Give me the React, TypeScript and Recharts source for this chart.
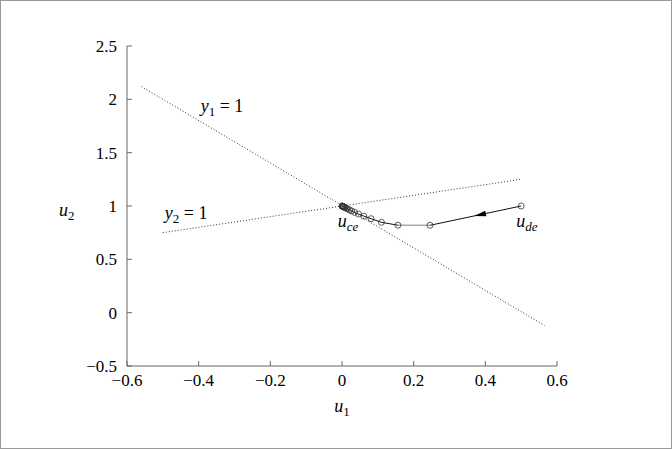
import { ComposedChart, Scatter, XAxis, YAxis, Label } from 'recharts'

const xTicks = [-0.6, -0.4, -0.2, 0, 0.2, 0.4, 0.6]
const yTicks = [-0.5, 0, 0.5, 1, 1.5, 2, 2.5]

// constraint lines y1 = 1 and y2 = 1
const lineY1 = [{ x: -0.56, y: 2.12 }, { x: 0.565, y: -0.12 }]
const lineY2 = [{ x: -0.5, y: 0.75 }, { x: 0.5, y: 1.25 }]

// iterates from u_de toward u_ce
const iterX = [0.5, 0.2456, 0.156, 0.11, 0.081, 0.061, 0.046, 0.035, 0.027, 0.021, 0.016, 0.012, 0.009, 0.007, 0.005, 0.0035, 0.0025, 0.0015, 0.001, 0.0005, 0]
const iterY = [1.0, 0.819, 0.82, 0.847, 0.881, 0.905, 0.925, 0.94, 0.953, 0.963, 0.972, 0.979, 0.984, 0.988, 0.991, 0.994, 0.996, 0.997, 0.998, 0.999, 1.0]
const iterates = iterX.map((x, i) => ({ x, y: iterY[i] }))

const arrowAt = [{ x: 0.385, y: 0.918 }]

const notes = [
  { x: -0.335, y: 1.88, base: 'y', sub: '1', tail: ' = 1' },
  { x: -0.435, y: 0.88, base: 'y', sub: '2', tail: ' = 1' },
  { x: 0.017, y: 0.8, base: 'u', sub: 'ce', tail: '' },
  { x: 0.516, y: 0.8, base: 'u', sub: 'de', tail: '' },
]

const font = 'Liberation Serif'
const fmt = (v: number) => (v < 0 ? '\u2212' + String(-v) : String(v))

const Nothing = () => <g />

const Circle = (p: any) => (
  <circle cx={p.cx} cy={p.cy} r={3} fill="none" stroke="#333" strokeWidth={0.8} />
)

const Arrow = (p: any) => (
  <path
    d="M 6 0 L -6 -2.8 L -6 2.8 Z"
    transform={`translate(${p.cx},${p.cy}) rotate(167.5)`}
    fill="#000"
  />
)

const Note = (p: any) => {
  const n = p.payload
  return (
    <text x={p.cx} y={p.cy} textAnchor="middle" style={{ fontFamily: font }} fontSize={18} fill="#000">
      <tspan fontStyle="italic">{n.base}</tspan>
      <tspan fontSize={13} dy={4} fontStyle={n.sub.length > 1 ? 'italic' : 'normal'}>{n.sub}</tspan>
      {n.tail && <tspan dy={-4}>{n.tail}</tspan>}
    </text>
  )
}

export default function App() {
  return (
    <div style={{ position: 'absolute', left: 0, top: 0, width: 672, height: 449, background: '#fff' }}>
      <ComposedChart width={672} height={449} margin={{ top: 46, right: 115, bottom: 43, left: 67 }}>
        <XAxis
          type="number"
          dataKey="x"
          domain={[-0.6, 0.6]}
          ticks={xTicks}
          tickFormatter={fmt}
          allowDataOverflow
          height={40}
          tickSize={-5}
          tickMargin={13}
          stroke="#666"
          tick={{ fill: '#000', fontSize: 17, style: { fontFamily: font } }}
        >
          <Label
            content={(props: any) => {
              const vb = props.viewBox
              return (
                <text x={vb.x + vb.width / 2} y={vb.y + 46} textAnchor="middle" style={{ fontFamily: font }} fontSize={18}>
                  <tspan fontStyle="italic">u</tspan>
                  <tspan fontSize={13} dy={4}>1</tspan>
                </text>
              )
            }}
          />
        </XAxis>
        <XAxis xAxisId="top" orientation="top" type="number" dataKey="x" domain={[-0.6, 0.6]} ticks={xTicks}
          allowDataOverflow height={0} tickSize={-5} tick={false} stroke="#666" />
        <YAxis
          type="number"
          dataKey="y"
          domain={[-0.5, 2.5]}
          ticks={yTicks}
          tickFormatter={fmt}
          allowDataOverflow
          width={60}
          tickSize={-5}
          tickMargin={15}
          stroke="#666"
          tick={{ fill: '#000', fontSize: 17, style: { fontFamily: font } }}
        >
          <Label
            content={(props: any) => {
              const vb = props.viewBox
              return (
                <text x={vb.x - 8} y={vb.y + vb.height / 2 + 10} textAnchor="start" style={{ fontFamily: font }} fontSize={18}>
                  <tspan fontStyle="italic">u</tspan>
                  <tspan fontSize={13} dy={4}>2</tspan>
                </text>
              )
            }}
          />
        </YAxis>
        <YAxis yAxisId="right" orientation="right" type="number" dataKey="y" domain={[-0.5, 2.5]} ticks={yTicks}
          allowDataOverflow width={0} tickSize={-5} tick={false} stroke="#666" />

        <Scatter data={lineY1} shape={Nothing} line={{ stroke: '#333', strokeWidth: 1, strokeDasharray: '1 2' }} isAnimationActive={false} />
        <Scatter data={lineY2} shape={Nothing} line={{ stroke: '#333', strokeWidth: 1, strokeDasharray: '1 2' }} isAnimationActive={false} />
        <Scatter data={iterates.slice(0, 2)} shape={Nothing} line={{ stroke: '#111', strokeWidth: 1 }} isAnimationActive={false} />
        <Scatter data={iterates.slice(1, 3)} shape={Nothing} line={{ stroke: '#aaa', strokeWidth: 1.5 }} isAnimationActive={false} />
        <Scatter data={iterates.slice(2)} shape={Nothing} line={{ stroke: '#111', strokeWidth: 1 }} isAnimationActive={false} />
        <Scatter data={iterates} shape={Circle} isAnimationActive={false} />
        <Scatter data={arrowAt} shape={Arrow} isAnimationActive={false} />
        <Scatter data={notes} shape={Note} isAnimationActive={false} />
      </ComposedChart>
      <div style={{ position: 'absolute', left: 0, top: 0, width: 672, height: 449, boxSizing: 'border-box', border: '1px solid #999' }} />
    </div>
  )
}
